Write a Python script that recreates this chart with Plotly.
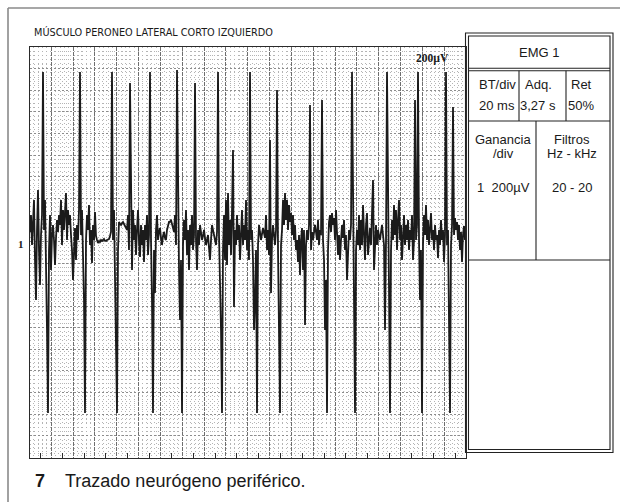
import plotly.graph_objects as go

# ---------------- text content ----------------
TITLE = "MÚSCULO PERONEO LATERAL CORTO IZQUIERDO"
GAIN_LABEL = "200µV"
CHANNEL_MARK = "1"
CAPTION_NUM = "7"
CAPTION = "Trazado neurógeno periférico."
PANEL_HEADER = "EMG 1"
SETTINGS_LABELS = ["BT/div", "Adq.", "Ret"]
SETTINGS_VALUES = ["20 ms", "3,27 s", "50%"]
GAIN_TEXT = ["Ganancia", "/div", "1  200µV"]
FILTER_TEXT = ["Filtros", "Hz - kHz", "20 - 20"]

# ---------------- scales ----------------
SWEEP_MS = 400          # 20 divisions x 20 ms
DIV_MS = 20
DIV_UV = 200
UV_TOP = 1787
UV_BOTTOM = -2014
SAMPLE_MS = 0.9164
START_MS = 0.46

# ---------------- EMG trace (µV) ----------------
AMPLITUDE_UV = [
    74, 231, -46, 139, 370, -185, -556, 93, 463, -93,
    -417, 46, 231, 1556, 93, 370, -93, -833, -1602, -93,
    231, -278, 46, 139, 0, -231, 19, 185, 74, 231,
    139, 370, -46, 278, 93, 324, 435, 0, 278, 139,
    231, 46, -93, -370, 0, 111, -185, 139, 0, 278,
    1556, 46, 278, -185, -556, -1602, 0, 231, 93, 324,
    -46, 93, -213, 139, 0, 259, 37, 0, -28, -9,
    -19, 0, -9, 0, 9, -9, -9, 0, 9, 9,
    37, 74, 1556, 0, 278, -370, -833, -1602, -93, 167,
    148, 139, 157, 167, 148, 130, 111, 93, 231, -93,
    1454, 93, -278, 278, 0, 139, -139, 93, 278, 0,
    -157, 139, -46, 93, -204, 139, 0, 231, -139, 46,
    1556, 0, -556, -1602, -93, -491, 93, 231, 0, 74,
    111, 19, -46, 37, 74, 19, 0, 93, 139, 167,
    167, 185, 148, 111, 74, 231, -46, 1574, 93, -278,
    -741, -185, -1602, -46, 185, 0, 278, -139, 93, -278,
    139, -46, 231, -93, 46, 1454, 0, -278, 93, -46,
    139, 74, 0, 37, 93, 19, -46, 0, 46, -74,
    -185, 0, 139, 93, 46, 0, -46, 74, 1556, 46,
    -370, -833, -1602, -93, 231, -185, 370, -231, 435, -46,
    185, -139, 278, 833, -620, 93, -46, 231, 0, 139,
    -185, 93, 278, -46, 139, 0, 370, -93, 93, -185,
    1556, 0, 93, -185, -833, -556, -93, -1602, -46, 139,
    74, 0, 56, 111, 65, 19, 231, -93, 93, -139,
    926, -491, 0, 139, 46, -46, 93, 1389, -93, -833,
    -1602, -46, 93, 370, 139, 435, 185, 370, 93, 324,
    167, 250, 46, 231, 0, 139, -93, 0, -204, 46,
    -324, 0, 111, -278, 93, -787, -46, 93, 0, 139,
    1250, -93, 74, 0, 65, 139, 74, 0, 185, -46,
    93, 46, 1296, 0, -185, -833, -370, -1602, -93, 167,
    231, 74, 250, 139, 204, 0, 278, 111, -139, 46,
    -185, 0, 139, 19, 185, -93, 46, -370, -46, 93,
    0, 139, 1556, 46, -556, -1602, -93, 93, -46, 231,
    -93, 185, -46, 324, 0, -185, 139, 250, -139, 46,
    111, -46, 231, 556, -278, 46, 139, -46, 93, 37,
    0, 74, 139, 46, -46, -833, 0, 1556, 0, -463,
    -1602, -93, 185, 0, 324, 46, 278, -93, 185, 370,
    0, 139, -185, 93, 231, -46, 139, 0, 185, -93,
    93, 0, 231, -185, 0, 1296, 0, 139, 1556, 0,
    -556, -93, -1602, -46, 231, 46, 324, 0, 185, -46,
    139, 250, 0, 93, -93, 139, 0, 46, -167, 93,
    -46, 185, 0, 93, -204, 46, 1556, -46, 93, -556,
    -1602, -46, 139, 1232, 46, 204, 93, 167, 0, 139,
    -93, 74, -204, 46, 130, 0,
]

time_ms = [START_MS + i * SAMPLE_MS for i in range(len(AMPLITUDE_UV))]

W, H = 620, 502


def px(x):
    return x / W


def py(y):
    return 1 - y / H


fig = go.Figure()
fig.add_trace(go.Scatter(
    x=time_ms, y=AMPLITUDE_UV, mode="lines",
    line=dict(color="#1b1b1b", width=1.8),
    hoverinfo="skip", showlegend=False,
))
# dummy trace to carry the bottom tick axis
fig.add_trace(go.Scatter(x=[0, SWEEP_MS], y=[None, None], xaxis="x2", yaxis="y",
                         mode="lines", showlegend=False, hoverinfo="skip"))

grid_x0, grid_x1 = 29.5, 466
grid_y0, grid_y1 = 47, 457.5

fig.update_layout(
    width=W, height=H, autosize=False,
    margin=dict(l=0, r=0, t=0, b=0),
    paper_bgcolor="white", plot_bgcolor="white",
    xaxis=dict(
        domain=[px(grid_x0), px(grid_x1)], range=[0, SWEEP_MS],
        tick0=0, dtick=DIV_MS, showticklabels=False, ticks="",
        showgrid=True, gridcolor="#6e6e6e", gridwidth=1, griddash="4px,1px",
        minor=dict(dtick=DIV_MS / 5, tick0=0, showgrid=True,
                   gridcolor="#b4b4b4", gridwidth=1, griddash="1px,3px"),
        zeroline=False, showline=True, mirror=True, linecolor="#2a2a2a", linewidth=1,
        fixedrange=True,
    ),
    xaxis2=dict(
        overlaying="x", anchor="y", side="bottom", range=[0, SWEEP_MS],
        tick0=DIV_MS / 2, dtick=DIV_MS, ticks="inside", ticklen=5,
        tickcolor="#2a2a2a", tickwidth=1, showticklabels=False,
        showgrid=False, zeroline=False, showline=False, fixedrange=True,
    ),
    yaxis=dict(
        domain=[py(grid_y1), py(grid_y0)], range=[UV_BOTTOM, UV_TOP],
        tick0=UV_TOP, dtick=DIV_UV, showticklabels=False, ticks="",
        showgrid=True, gridcolor="#8c8c8c", gridwidth=1, griddash="2px,2px",
        minor=dict(dtick=DIV_UV / 5, tick0=UV_TOP, showgrid=True,
                   gridcolor="#b4b4b4", gridwidth=1, griddash="1px,3px"),
        zeroline=False, showline=True, mirror=True, linecolor="#2a2a2a", linewidth=1,
        fixedrange=True,
    ),
)

shapes = []
# outer figure frame (top & left visible)
shapes.append(dict(type="line", xref="paper", yref="paper", x0=px(8), x1=px(620),
                   y0=py(8), y1=py(8), line=dict(color="#8a8a8a", width=1.6)))
shapes.append(dict(type="line", xref="paper", yref="paper", x0=px(8), x1=px(8),
                   y0=py(8), y1=py(502), line=dict(color="#8a8a8a", width=1.6)))


def rect(x0, y0, x1, y1, w=1.1, c="#222222"):
    shapes.append(dict(type="rect", xref="paper", yref="paper",
                       x0=px(x0), x1=px(x1), y0=py(y0), y1=py(y1),
                       line=dict(color=c, width=w), fillcolor="rgba(0,0,0,0)"))


def hline(x0, x1, y, w=1.1, c="#222222"):
    shapes.append(dict(type="line", xref="paper", yref="paper",
                       x0=px(x0), x1=px(x1), y0=py(y), y1=py(y),
                       line=dict(color=c, width=w)))


def vline(x, y0, y1, w=1.1, c="#222222"):
    shapes.append(dict(type="line", xref="paper", yref="paper",
                       x0=px(x), x1=px(x), y0=py(y0), y1=py(y1),
                       line=dict(color=c, width=w)))


# right information panel
rect(465.5, 33, 613, 452.5)
rect(468.5, 36, 610, 449.5)
hline(468.5, 610, 68.3)
hline(468.5, 610, 70.7)
hline(468.5, 610, 121)
vline(519, 70.7, 121)
vline(566, 70.7, 121)
hline(468.5, 610, 260)
vline(536, 121, 260)
fig.update_layout(shapes=shapes)

SANS = "Liberation Sans, Arial, Helvetica, sans-serif"
ann = []


def text(x, y, s, size=13, family=SANS, xanchor="center", bold=False, color="#1a1a1a"):
    if bold:
        s = "<b>" + s + "</b>"
    ann.append(dict(x=px(x), y=py(y), xref="paper", yref="paper", text=s,
                    showarrow=False, xanchor=xanchor, yanchor="middle",
                    font=dict(size=size, family=family, color=color)))


text(31.5, 33, TITLE, size=10.8,
     family="Liberation Sans Narrow, DejaVu Sans Condensed, Arial Narrow, sans-serif",
     xanchor="left")
text(432.5, 58, GAIN_LABEL, size=11.5, family="Liberation Serif, DejaVu Serif, serif", bold=True)
text(20.5, 244, CHANNEL_MARK, size=11, family="Liberation Serif, DejaVu Serif, serif", bold=True)

text(539, 52, PANEL_HEADER, size=13)
for cx, lab, val in zip([497, 538, 581], SETTINGS_LABELS, SETTINGS_VALUES):
    text(cx, 85, lab)
    text(cx, 105, val)
for yy, s in zip([139, 154, 187], GAIN_TEXT):
    text(503, yy, s)
for yy, s in zip([139, 154, 187], FILTER_TEXT):
    text(572, yy, s)

text(32.5, 481, CAPTION_NUM, size=18, bold=True, xanchor="left")
text(62.5, 481, CAPTION, size=18, xanchor="left")
fig.update_layout(annotations=ann)

fig.write_html(
    "out.html",
    config={"displayModeBar": False},
    post_script="document.body.style.margin='0';document.body.style.overflow='hidden';",
)
